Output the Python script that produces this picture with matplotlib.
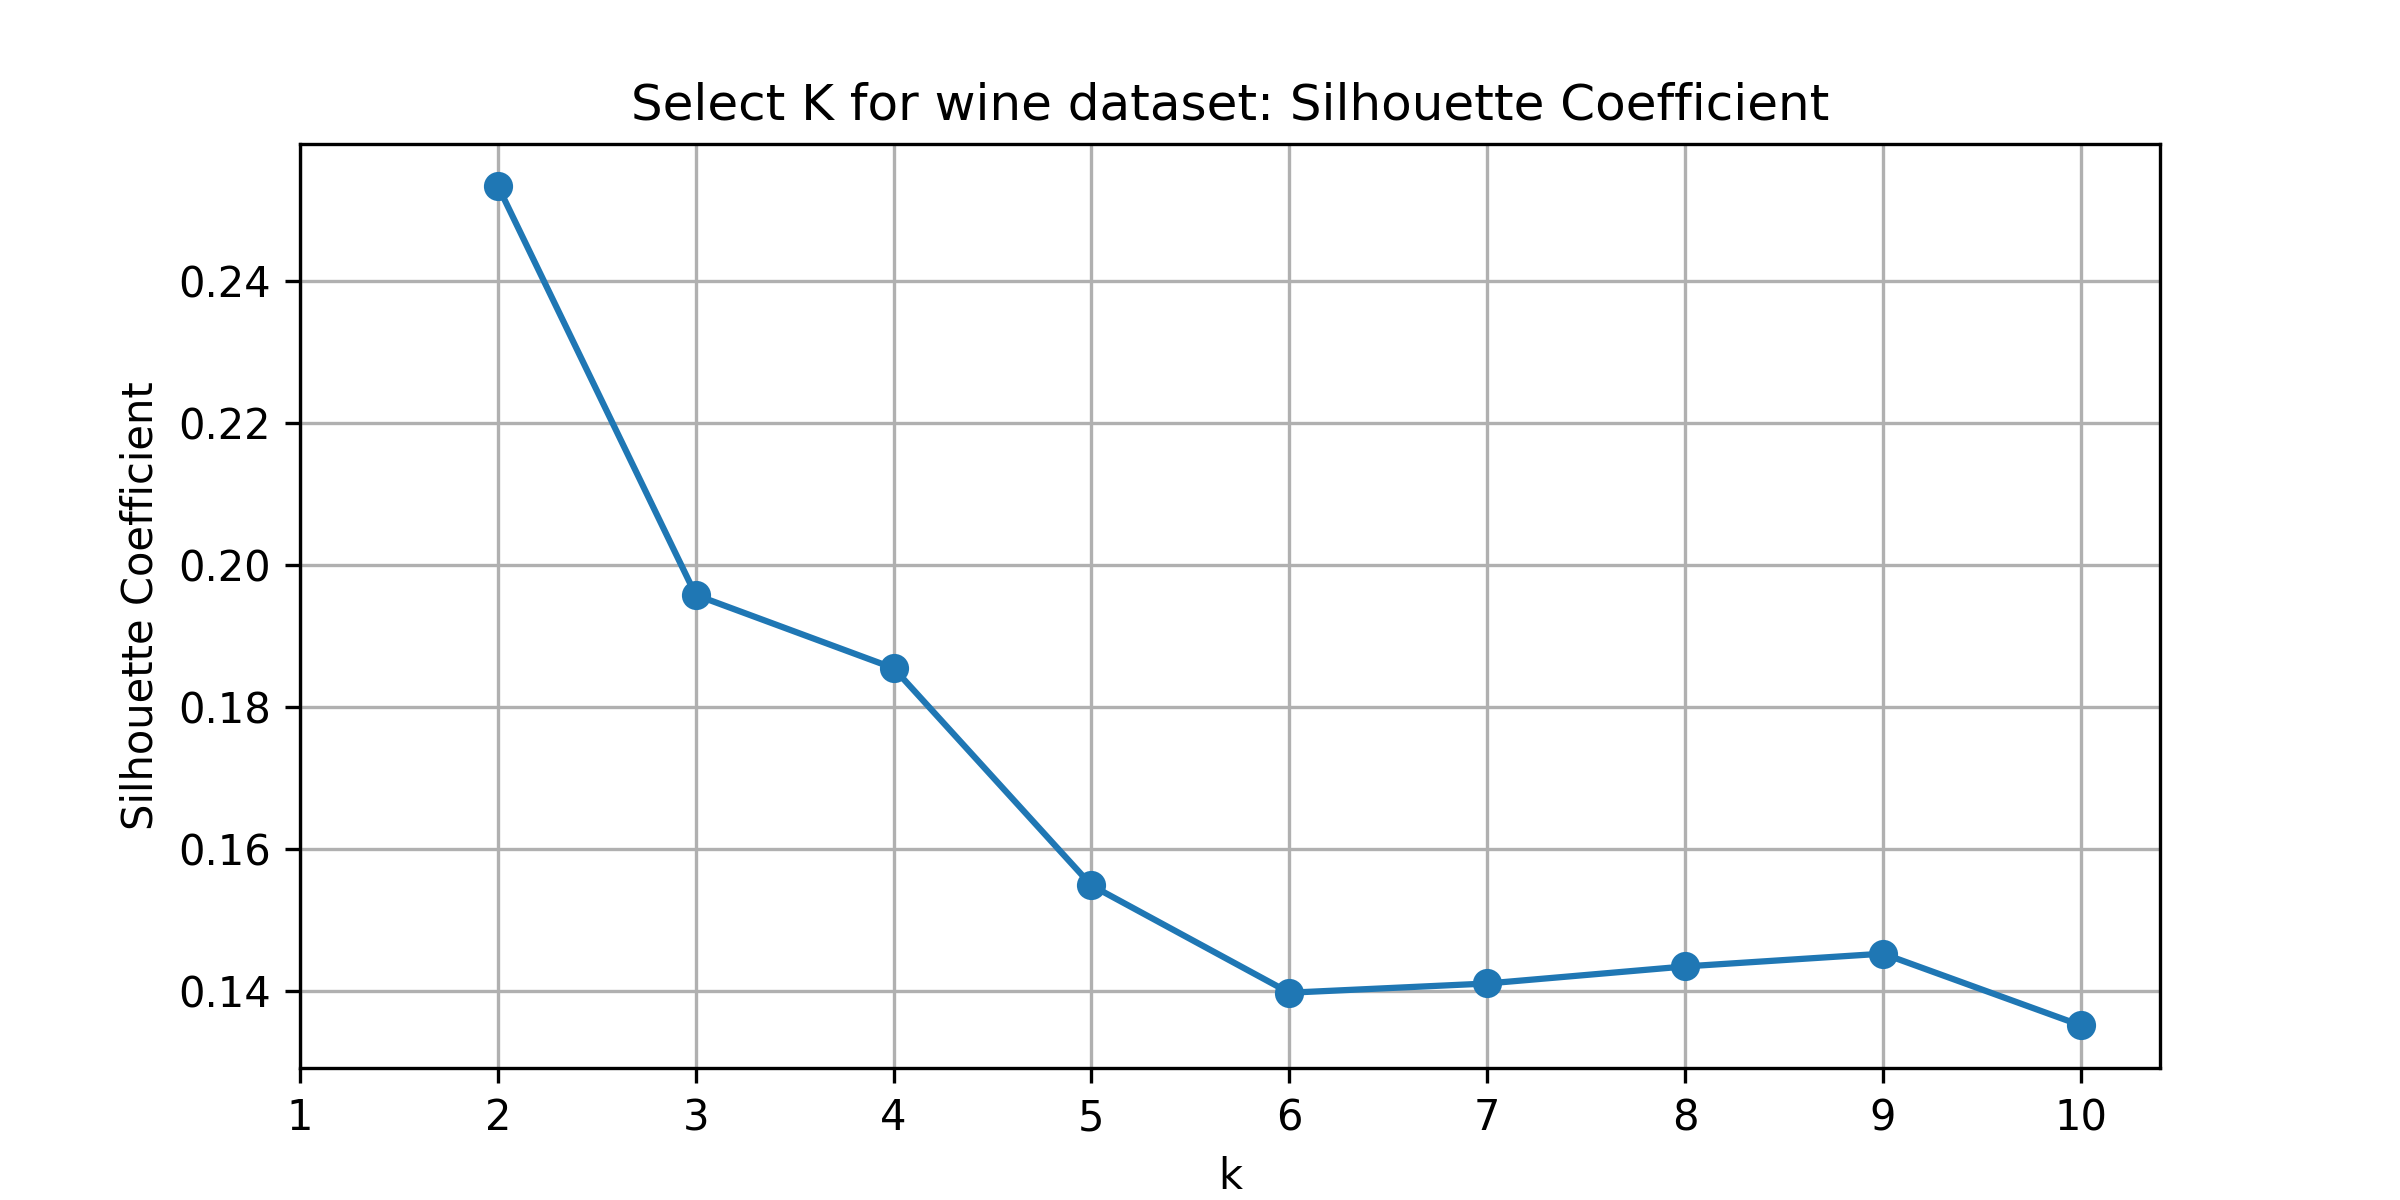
import matplotlib
matplotlib.use("Agg")
import matplotlib.pyplot as plt

k_values = [2, 3, 4, 5, 6, 7, 8, 9, 10]
silhouette = [0.2534, 0.1958, 0.1855, 0.1549, 0.1398, 0.1411, 0.1435, 0.1453, 0.1352]

fig, ax = plt.subplots(figsize=(8, 4), dpi=300)
ax.plot(k_values, silhouette, marker="o", color="#1f77b4")
ax.set_xticks(range(1, 11))
ax.set_xlim(1, 10.4)
ax.set_ylim(0.1292, 0.2593)
ax.set_xlabel("k")
ax.set_ylabel("Silhouette Coefficient")
ax.set_title("Select K for wine dataset: Silhouette Coefficient")
ax.grid(True)
fig.savefig("out.png")
